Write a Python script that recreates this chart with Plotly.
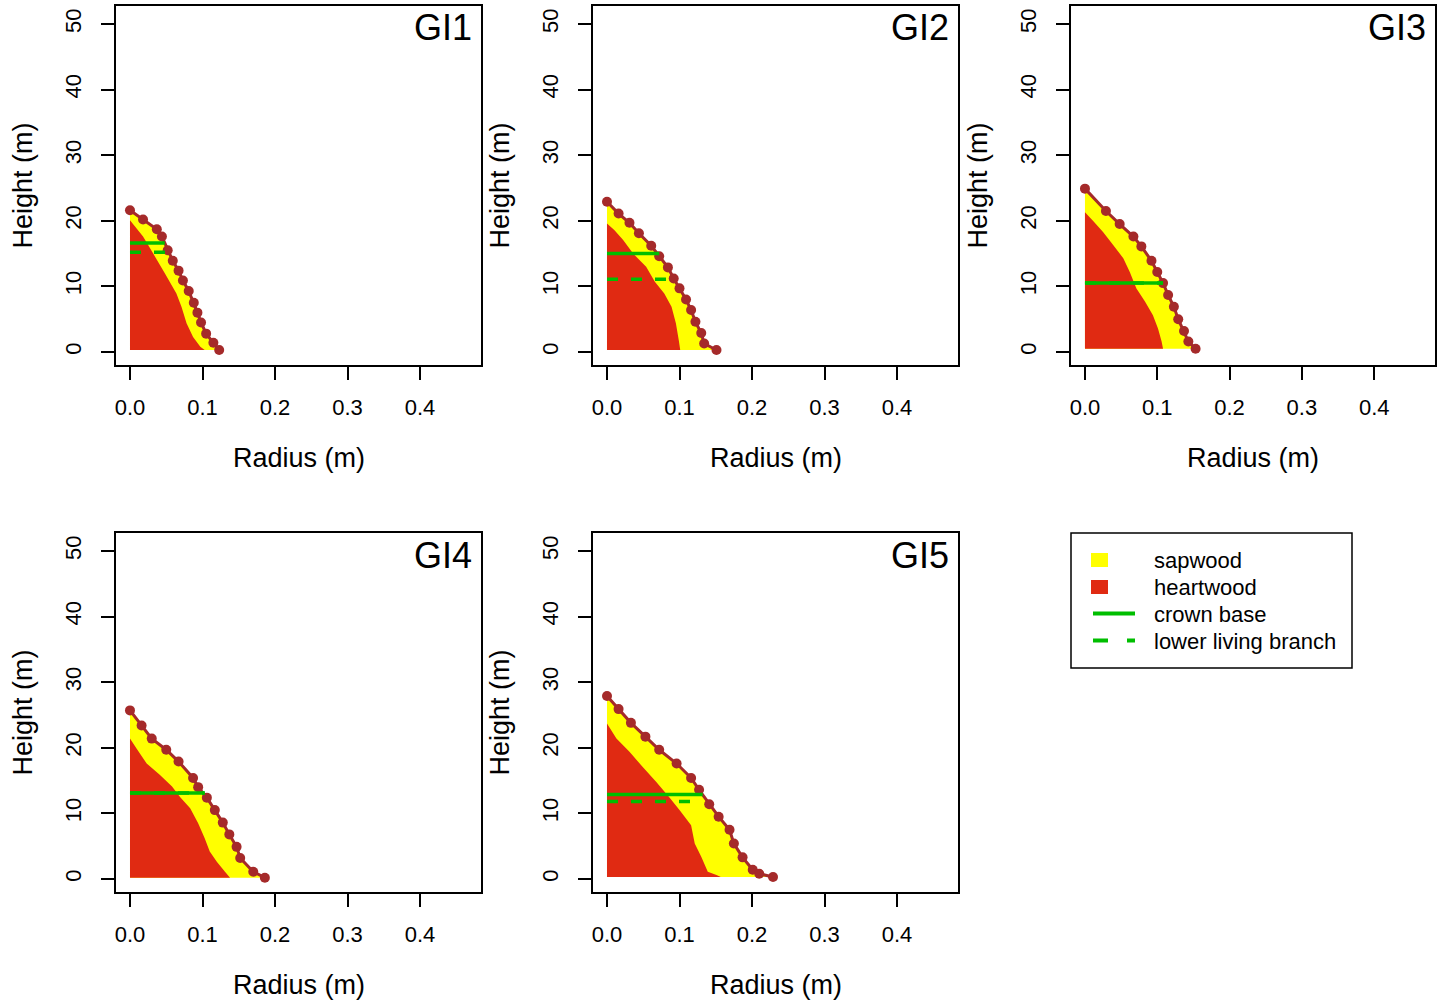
import plotly.graph_objects as go

W, H = 1443, 1007

# ---------------- data ----------------
tree_names = ["GI1", "GI2", "GI3", "GI4", "GI5"]

GI1_outer_r = [0.0, 0.018, 0.037, 0.044, 0.052, 0.059, 0.067, 0.073, 0.081, 0.088, 0.093, 0.098, 0.105, 0.115, 0.123]
GI1_outer_h = [21.6, 20.2, 18.7, 17.6, 15.5, 13.9, 12.4, 10.9, 9.3, 7.5, 6.0, 4.5, 2.8, 1.4, 0.3]
GI1_heart_r = [0.0, 0.018, 0.032, 0.048, 0.064, 0.071, 0.078, 0.087, 0.097, 0.103]
GI1_heart_h = [20.1, 17.6, 15.0, 12.0, 8.9, 6.9, 4.4, 2.3, 0.8, 0.3]
GI1_crown = [16.6, 0.048]
GI1_branch = [15.2, 0.050]

GI2_outer_r = [0.0, 0.016, 0.031, 0.044, 0.061, 0.072, 0.084, 0.092, 0.100, 0.109, 0.116, 0.122, 0.130, 0.134, 0.151]
GI2_outer_h = [22.9, 21.1, 19.7, 18.1, 16.2, 14.6, 12.9, 11.2, 9.7, 8.0, 6.4, 4.6, 2.9, 1.3, 0.3]
GI2_heart_r = [0.0, 0.010, 0.022, 0.036, 0.054, 0.066, 0.079, 0.089, 0.095, 0.099, 0.101]
GI2_heart_h = [19.6, 18.6, 17.1, 15.0, 13.0, 10.7, 8.9, 6.9, 4.4, 1.8, 0.3]
GI2_crown = [15.0, 0.072]
GI2_branch = [11.1, 0.085]

GI3_outer_r = [0.0, 0.029, 0.048, 0.067, 0.078, 0.092, 0.100, 0.108, 0.115, 0.123, 0.129, 0.137, 0.143, 0.153]
GI3_outer_h = [24.9, 21.5, 19.5, 17.6, 16.1, 13.9, 12.2, 10.5, 8.7, 6.9, 5.0, 3.2, 1.6, 0.5]
GI3_heart_r = [0.0, 0.012, 0.025, 0.039, 0.053, 0.062, 0.071, 0.083, 0.094, 0.101, 0.106, 0.108]
GI3_heart_h = [21.3, 19.9, 18.3, 16.3, 14.3, 12.2, 9.7, 7.7, 5.6, 3.6, 1.6, 0.5]
GI3_crown = [10.5, 0.108]
GI3_branch = [10.5, 0.108]

GI4_outer_r = [0.0, 0.016, 0.030, 0.050, 0.067, 0.087, 0.094, 0.106, 0.117, 0.128, 0.137, 0.147, 0.152, 0.170, 0.186]
GI4_outer_h = [25.7, 23.4, 21.4, 19.7, 17.9, 15.4, 14.0, 12.4, 10.5, 8.6, 6.8, 4.9, 3.2, 1.1, 0.2]
GI4_heart_r = [0.0, 0.009, 0.023, 0.041, 0.058, 0.069, 0.083, 0.094, 0.103, 0.110, 0.120, 0.131, 0.138]
GI4_heart_h = [21.4, 19.9, 17.6, 15.9, 14.1, 12.5, 10.8, 8.5, 6.2, 4.2, 2.6, 1.1, 0.2]
GI4_crown = [13.1, 0.103]
GI4_branch = [13.1, 0.103]

GI5_outer_r = [0.0, 0.016, 0.033, 0.053, 0.072, 0.096, 0.116, 0.127, 0.141, 0.154, 0.169, 0.175, 0.187, 0.201, 0.210, 0.229]
GI5_outer_h = [27.9, 25.9, 23.8, 21.7, 19.7, 17.6, 15.4, 13.6, 11.4, 9.5, 7.5, 5.4, 3.3, 1.4, 0.8, 0.3]
GI5_heart_r = [0.0, 0.013, 0.031, 0.049, 0.068, 0.087, 0.100, 0.116, 0.121, 0.130, 0.139, 0.151, 0.157]
GI5_heart_h = [23.7, 21.4, 19.4, 17.1, 14.8, 12.3, 10.5, 8.2, 5.4, 3.4, 1.1, 0.6, 0.3]
GI5_crown = [12.9, 0.132]
GI5_branch = [11.8, 0.119]

x_ticks = [0.0, 0.1, 0.2, 0.3, 0.4]
x_ticklabels = ["0.0", "0.1", "0.2", "0.3", "0.4"]
y_ticks = [0, 10, 20, 30, 40, 50]
y_ticklabels = ["0", "10", "20", "30", "40", "50"]

legend_labels = ["sapwood", "heartwood", "crown base", "lower living branch"]

trees = {
    "GI1": (GI1_outer_r, GI1_outer_h, GI1_heart_r, GI1_heart_h, GI1_crown, GI1_branch),
    "GI2": (GI2_outer_r, GI2_outer_h, GI2_heart_r, GI2_heart_h, GI2_crown, GI2_branch),
    "GI3": (GI3_outer_r, GI3_outer_h, GI3_heart_r, GI3_heart_h, GI3_crown, GI3_branch),
    "GI4": (GI4_outer_r, GI4_outer_h, GI4_heart_r, GI4_heart_h, GI4_crown, GI4_branch),
    "GI5": (GI5_outer_r, GI5_outer_h, GI5_heart_r, GI5_heart_h, GI5_crown, GI5_branch),
}

# ---------------- style ----------------
SAP = "#FFFF00"
HEART = "#E02A12"
GREEN = "#00BE00"
BROWN = "#A52A2A"
FONT = "Liberation Sans, Arial, sans-serif"
TICK_SIZE = 22
TITLE_SIZE = 27
PANEL_SIZE = 36
LEG_SIZE = 22

# panel boxes in pixels (left, right, top, bottom)
boxes = [
    (116, 481, 6, 365),
    (593, 958, 6, 365),
    (1071, 1435, 6, 365),
    (116, 481, 533, 892),
    (593, 958, 533, 892),
]
XR = [-0.0193, 0.4841]
YR = [-1.98, 52.74]

fig = go.Figure()
layout = dict(
    width=W, height=H,
    margin=dict(l=0, r=0, t=0, b=0),
    paper_bgcolor="white", plot_bgcolor="white",
    showlegend=False,
    font=dict(family=FONT, color="black"),
)
annotations = []
shapes = []

for i, name in enumerate(tree_names):
    outer_r, outer_h, heart_r, heart_h, crown, branch = trees[name]
    k = "" if i == 0 else str(i + 1)
    xa, ya = "x" + k, "y" + k
    L, R, T, B = boxes[i]

    # sapwood polygon (outer profile closed to the pith)
    sx = list(outer_r) + [0.0]
    sy = list(outer_h) + [outer_h[-1]]
    fig.add_trace(go.Scatter(x=sx, y=sy, fill="toself", fillcolor=SAP, mode="none",
                             xaxis=xa, yaxis=ya, hoverinfo="skip"))
    # heartwood polygon
    hx = list(heart_r) + [0.0]
    hy = list(heart_h) + [heart_h[-1]]
    fig.add_trace(go.Scatter(x=hx, y=hy, fill="toself", fillcolor=HEART, mode="none",
                             xaxis=xa, yaxis=ya, hoverinfo="skip"))
    # outer profile points
    fig.add_trace(go.Scatter(x=outer_r, y=outer_h, mode="lines+markers",
                             line=dict(color=BROWN, width=3),
                             marker=dict(color=BROWN, size=10),
                             xaxis=xa, yaxis=ya))
    # lower living branch (dashed) and crown base (solid)
    fig.add_trace(go.Scatter(x=[0.0, branch[1]], y=[branch[0], branch[0]], mode="lines",
                             line=dict(color=GREEN, width=3.5, dash="11px,13px"),
                             xaxis=xa, yaxis=ya))
    fig.add_trace(go.Scatter(x=[0.0, crown[1]], y=[crown[0], crown[0]], mode="lines",
                             line=dict(color=GREEN, width=3.5),
                             xaxis=xa, yaxis=ya))

    common = dict(showgrid=False, zeroline=False, showline=True, linecolor="black",
                  linewidth=1.5, mirror=True, ticks="outside", ticklen=13,
                  tickwidth=1.5, tickcolor="black",
                  tickfont=dict(family=FONT, size=TICK_SIZE, color="black"))
    layout["xaxis" + k] = dict(common, domain=[L / W, R / W], range=XR,
                               anchor=ya, tickvals=x_ticks, ticktext=x_ticklabels,
                               ticklabelstandoff=9)
    layout["yaxis" + k] = dict(common, domain=[1 - B / H, 1 - T / H], range=YR,
                               anchor=xa, tickvals=y_ticks, ticktext=y_ticklabels,
                               tickangle=-90, ticklabelstandoff=11)

    # panel label
    annotations.append(dict(text=name, x=(R - 7) / W, y=1 - (T + 22) / H,
                            xref="paper", yref="paper", xanchor="right", yanchor="middle",
                            showarrow=False, font=dict(family=FONT, size=PANEL_SIZE, color="black")))
    # axis titles
    annotations.append(dict(text="Radius (m)", x=(L + R) / 2 / W, y=1 - (B + 93) / H,
                            xref="paper", yref="paper", xanchor="center", yanchor="middle",
                            showarrow=False, font=dict(family=FONT, size=TITLE_SIZE, color="black")))
    annotations.append(dict(text="Height (m)", x=(L - 94) / W, y=1 - (T + B) / 2 / H,
                            xref="paper", yref="paper", xanchor="center", yanchor="middle",
                            textangle=-90, showarrow=False,
                            font=dict(family=FONT, size=TITLE_SIZE, color="black")))

# ---------------- legend (drawn by hand, like R's legend box) ----------------
def px(x):
    return x / W

def py(y):
    return 1 - y / H

shapes.append(dict(type="rect", xref="paper", yref="paper",
                   x0=px(1071), x1=px(1352), y0=py(668), y1=py(533),
                   line=dict(color="black", width=1.5), fillcolor="rgba(0,0,0,0)"))
shapes.append(dict(type="rect", xref="paper", yref="paper",
                   x0=px(1091), x1=px(1108), y0=py(567), y1=py(553),
                   line=dict(width=0), fillcolor=SAP))
shapes.append(dict(type="rect", xref="paper", yref="paper",
                   x0=px(1091), x1=px(1108), y0=py(594), y1=py(580),
                   line=dict(width=0), fillcolor=HEART))
shapes.append(dict(type="line", xref="paper", yref="paper",
                   x0=px(1093), x1=px(1135), y0=py(613.5), y1=py(613.5),
                   line=dict(color=GREEN, width=4)))
shapes.append(dict(type="line", xref="paper", yref="paper",
                   x0=px(1093), x1=px(1135), y0=py(640.5), y1=py(640.5),
                   line=dict(color=GREEN, width=4, dash="15px,19px")))
for j, lab in enumerate(legend_labels):
    annotations.append(dict(text=lab, x=px(1152), y=py(560 + 27 * j),
                            xref="paper", yref="paper", xanchor="left", yanchor="middle",
                            showarrow=False, font=dict(family=FONT, size=LEG_SIZE, color="black")))

layout["annotations"] = annotations
layout["shapes"] = shapes
fig.update_layout(**layout)
fig.write_html("out.html")
